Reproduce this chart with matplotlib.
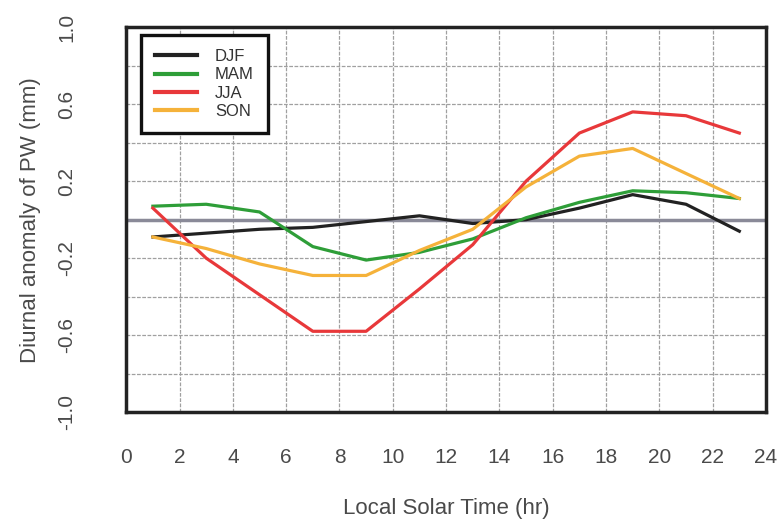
import matplotlib
matplotlib.use("Agg")
from matplotlib import pyplot as plt
import numpy as np

plt.rcParams['font.family'] = ['Liberation Sans', 'DejaVu Sans']
plt.rcParams['axes.unicode_minus'] = False

# local solar time (hr)
hours = [1, 3, 5, 7, 9, 11, 13, 15, 17, 19, 21, 23]

# diurnal anomaly of PW (mm), per season
djf = [-0.09, -0.07, -0.05, -0.04, -0.01, 0.02, -0.02, 0.00, 0.06, 0.13, 0.08, -0.06]
mam = [0.07, 0.08, 0.04, -0.14, -0.21, -0.17, -0.10, 0.01, 0.09, 0.15, 0.14, 0.11]
jja = [0.06, -0.20, -0.39, -0.58, -0.58, -0.36, -0.13, 0.20, 0.45, 0.56, 0.54, 0.45]
son = [-0.09, -0.15, -0.23, -0.29, -0.29, -0.16, -0.05, 0.17, 0.33, 0.37, 0.24, 0.11]

seasons = ["DJF", "MAM", "JJA", "SON"]
colors = ["#222222", "#2e9e38", "#e8383a", "#f5b23a"]

x_ticks = np.arange(0, 25, 2)
y_major = [-1.0, -0.6, -0.2, 0.2, 0.6, 1.0]
y_minor = [-0.8, -0.4, 0.0, 0.4, 0.8]

fig = plt.figure(figsize=(7.84, 5.23), dpi=100)
ax = fig.add_axes([0.161, 0.212, 0.816, 0.736])

ax.set_xlim(0, 24)
ax.set_ylim(-1.0, 1.0)
ax.set_xticks(x_ticks)
ax.set_yticks(y_major)
ax.set_yticks(y_minor, minor=True)
ax.set_yticklabels(["%.1f" % v for v in y_major], rotation=90, va='center')

ax.grid(True, which='both', color='#a0a0a0', linestyle=(0, (3, 1.2)), linewidth=0.9)
ax.set_axisbelow(True)
ax.axhline(0, color='#8a8a98', linewidth=2.5, zorder=1.5)

for vals, name, c in zip([djf, mam, jja, son], seasons, colors):
    ax.plot(hours, vals, color=c, linewidth=2.3, label=name, zorder=3)

for s in ax.spines.values():
    s.set_linewidth(2.5)
    s.set_color('#222222')

ax.tick_params(which='both', length=0, colors='#4a4a4a', labelsize=15)
ax.tick_params(axis='x', pad=26)
ax.tick_params(axis='y', pad=36)

ax.set_xlabel('Local Solar Time (hr)', fontsize=16, color='#4a4a4a', labelpad=22)
ax.set_ylabel('Diurnal anomaly of PW (mm)', fontsize=16, color='#4a4a4a', labelpad=12)

leg = ax.legend(loc='upper left', bbox_to_anchor=(0.015, 0.993), fontsize=12,
                handlelength=2.5, labelspacing=0.2, handletextpad=1.1,
                borderpad=0.85, borderaxespad=0.3, fancybox=False, framealpha=1)
leg.get_frame().set_edgecolor('#111111')
leg.get_frame().set_linewidth(2.4)
for t in leg.get_texts():
    t.set_color('#333333')
for h in leg.get_lines():
    h.set_linewidth(3)

plt.savefig('out.png', dpi=100)
